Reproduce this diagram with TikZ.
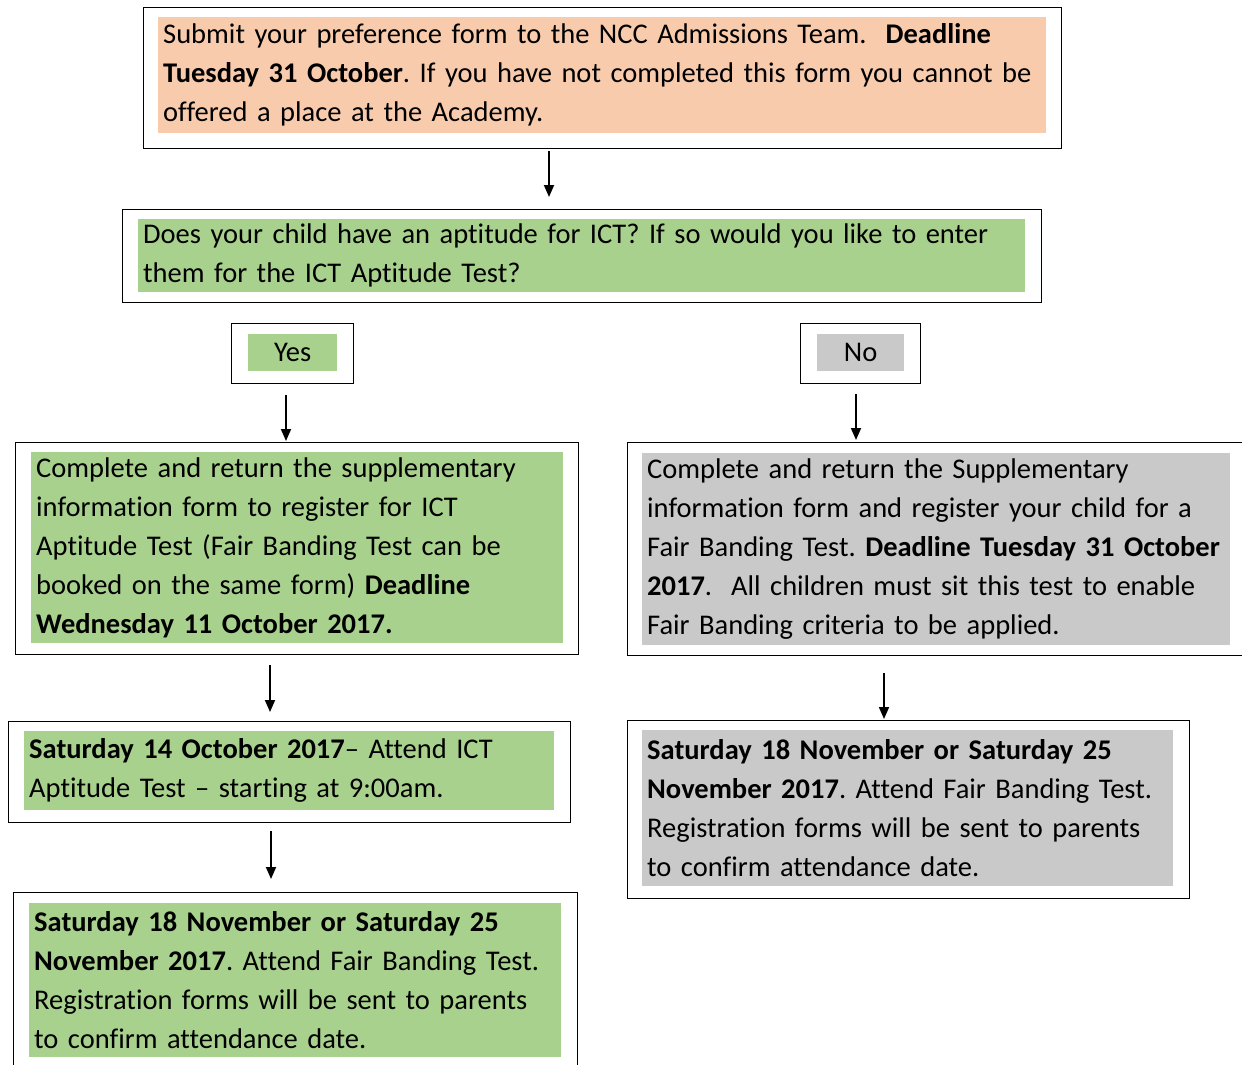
\documentclass[tikz,border=0pt]{standalone}
\usepackage{fontspec}
\setmainfont{Carlito}[Ligatures=NoCommon]
\usepackage{xcolor}
\usetikzlibrary{arrows.meta}
\definecolor{peach}{HTML}{F8CBAD}
\definecolor{leaf}{HTML}{A9D18E}
\definecolor{stone}{HTML}{C9C9C9}
\tikzset{
  frame/.style={draw=black, line width=1.3pt, anchor=north west, inner sep=0pt},
  panel/.style={anchor=north west, inner xsep=5pt, inner ysep=0pt, align=left,
    font=\fontsize{28.5}{39}\selectfont\frenchspacing},
  flow/.style={line width=1.8pt, -{Triangle[width=10pt,length=12pt]}}
}
\begin{document}
\begin{tikzpicture}[x=1pt,y=-1pt]
\useasboundingbox (0,0) rectangle (1242,1065);
% top step
\node[frame, minimum width=918pt, minimum height=141pt] (top) at (143,7) {};
\node[panel, fill=peach, text width=878pt, minimum height=116pt] (topin) at (158,17)
  {Submit your preference form to the NCC Admissions Team.\ \ \textbf{Deadline}\\
   \textbf{Tuesday 31 October}. If you have not completed this form you cannot be\\
   offered a place at the Academy.};
% question
\node[frame, minimum width=919pt, minimum height=93pt] (ask) at (122,209) {};
\node[panel, fill=leaf, text width=877pt, minimum height=73pt] (askin) at (138,219)
  {Does your child have an aptitude for ICT? If so would you like to enter\\
   them for the ICT Aptitude Test?};
% yes / no
\node[frame, minimum width=122pt, minimum height=60pt] (yes) at (231,323) {};
\node[panel, fill=leaf, align=center, text width=79pt, minimum height=37pt] (yesin) at (248,334) {Yes};
\node[frame, minimum width=120pt, minimum height=60pt] (no) at (800,323) {};
\node[panel, fill=stone, align=center, text width=77pt, minimum height=37pt] (noin) at (817,334) {No};
% left column
\node[frame, minimum width=563pt, minimum height=212pt] (lone) at (15,442) {};
\node[panel, fill=leaf, text width=522pt, minimum height=191pt] (lonein) at (31,452)
  {Complete and return the supplementary\\
   information form to register for ICT\\
   Aptitude Test (Fair Banding Test can be\\
   booked on the same form) \textbf{Deadline}\\
   \textbf{Wednesday 11 October 2017.}};
\node[frame, minimum width=562pt, minimum height=101pt] (ltwo) at (8,721) {};
\node[panel, fill=leaf, text width=520pt, minimum height=79pt] (ltwoin) at (24,731)
  {\textbf{Saturday 14 October 2017}-- Attend ICT\\
   Aptitude Test -- starting at 9:00am.};
\node[frame, minimum width=564pt, minimum height=176pt] (lthree) at (13,892) {};
\node[panel, fill=leaf, text width=522pt, minimum height=154pt] (lthreein) at (29,903)
  {\textbf{Saturday 18 November or Saturday 25}\\
   \textbf{November 2017}. Attend Fair Banding Test.\\
   Registration forms will be sent to parents\\
   to confirm attendance date.};
% right column
\node[frame, minimum width=619pt, minimum height=213pt] (rone) at (627,442) {};
\node[panel, fill=stone, text width=578pt, minimum height=192pt] (ronein) at (642,453)
  {Complete and return the Supplementary\\
   information form and register your child for a\\
   Fair Banding Test. \textbf{Deadline Tuesday 31 October}\\
   \textbf{2017}.\ \ All children must sit this test to enable\\
   Fair Banding criteria to be applied.};
\node[frame, minimum width=562pt, minimum height=178pt] (rtwo) at (627,720) {};
\node[panel, fill=stone, text width=521pt, minimum height=156pt] (rtwoin) at (642,730)
  {\textbf{Saturday 18 November or Saturday 25}\\
   \textbf{November 2017}. Attend Fair Banding Test.\\
   Registration forms will be sent to parents\\
   to confirm attendance date.};
% arrows
\coordinate (c1) at (549,0);
\coordinate (c2) at (286,0);
\coordinate (c3) at (856,0);
\coordinate (c4) at (270,0);
\coordinate (c5) at (884,0);
\coordinate (c6) at (271,0);
\draw[flow, shorten <=2pt, shorten >=12pt] (top.south -| c1) -- (ask.north -| c1);
\draw[flow, shorten <=11pt, shorten >=1pt] (yes.south -| c2) -- (lone.north -| c2);
\draw[flow, shorten <=10pt, shorten >=2pt] (no.south -| c3) -- (rone.north -| c3);
\draw[flow, shorten <=10pt, shorten >=9pt] (lone.south -| c4) -- (ltwo.north -| c4);
\draw[flow, shorten <=17pt, shorten >=1pt] (rone.south -| c5) -- (rtwo.north -| c5);
\draw[flow, shorten <=8pt, shorten >=13pt] (ltwo.south -| c6) -- (lthree.north -| c6);
\end{tikzpicture}
\end{document}
